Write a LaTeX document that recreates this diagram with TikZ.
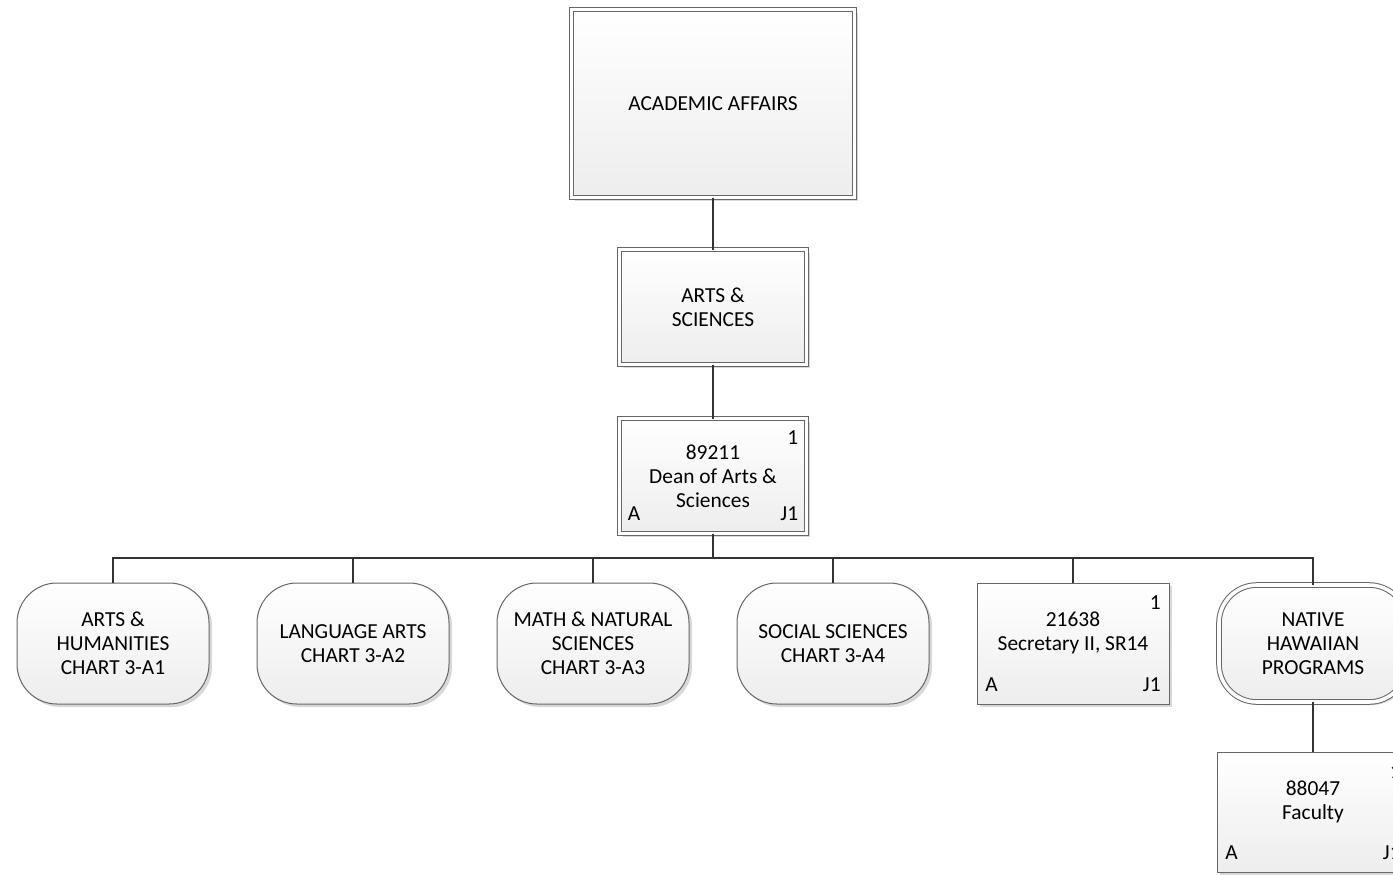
\documentclass[tikz,border=0pt]{standalone}
\usepackage{fontspec}
\setmainfont{Carlito}
\usetikzlibrary{shadows}
\tikzset{
	box/.style={rectangle,draw=black!60,line width=0.5pt,top color=white,bottom color=black!7,
		drop shadow={shadow xshift=1.5pt,shadow yshift=-1.5pt,fill=black!30,opacity=0.5},
		align=center,font=\fontsize{10.7}{12}\selectfont,inner sep=0pt,outer sep=0pt},
	dbox/.style={box,double=white,double distance=1.8pt},
	rbox/.style={box,rounded corners=20pt,minimum width=96pt,minimum height=60.5pt},
	drbox/.style={dbox,rounded corners=19pt,minimum width=94pt,minimum height=58.5pt},
	posbox/.style={box,minimum width=96pt,minimum height=60.5pt},
	corner/.style={inner sep=0pt,font=\fontsize{10.7}{12}\selectfont},
	conn/.style={draw=black!80,line width=1.1pt}}
\begin{document}
\begin{tikzpicture}[x=0.5pt,y=-0.5pt]
	\useasboundingbox (0,0) rectangle (1393,874);
	\node (acad) at (713,103.5) [dbox,minimum width=141.5pt,minimum height=94pt] {ACADEMIC AFFAIRS};
	\node (as) at (713,307) [dbox,minimum width=93.5pt,minimum height=57.5pt] {ARTS \&\\SCIENCES};
	\node (dean) at (713,476) [dbox,minimum width=93.5pt,minimum height=57.5pt] {89211\\Dean of Arts \&\\Sciences};
	\node (dean-n) at ([shift={(-8,26)}]dean.north east) [corner,anchor=base east] {1};
	\node (dean-a) at ([shift={(8,-13)}]dean.south west) [corner,anchor=base west] {A};
	\node (dean-j) at ([shift={(-8,-13)}]dean.south east) [corner,anchor=base east] {J1};
	\coordinate (bus) at (713,558);
	\node (ah) at (113,643.5) [rbox] {ARTS \&\\HUMANITIES\\CHART 3-A1};
	\node (la) at (353,643.5) [rbox] {LANGUAGE ARTS\\CHART 3-A2};
	\node (mns) at (593,643.5) [rbox] {MATH \& NATURAL\\SCIENCES\\CHART 3-A3};
	\node (ss) at (833,643.5) [rbox] {SOCIAL SCIENCES\\CHART 3-A4};
	\node (sec) at (1073,643.5) [posbox] {21638\\Secretary II, SR14\\\mbox{}};
	\node (sec-n) at ([shift={(-8,26)}]sec.north east) [corner,anchor=base east] {1};
	\node (sec-a) at ([shift={(8,-13)}]sec.south west) [corner,anchor=base west] {A};
	\node (sec-j) at ([shift={(-8,-13)}]sec.south east) [corner,anchor=base east] {J1};
	\node (nhp) at (1313,643.5) [drbox] {NATIVE\\HAWAIIAN\\PROGRAMS};
	\node (fac) at (1313,812) [posbox,minimum height=60pt] {88047\\Faculty\\\mbox{}};
	\node (fac-n) at ([shift={(-8,26)}]fac.north east) [corner,anchor=base east] {1};
	\node (fac-a) at ([shift={(8,-13)}]fac.south west) [corner,anchor=base west] {A};
	\node (fac-j) at ([shift={(-8,-13)}]fac.south east) [corner,anchor=base east] {J1};
	\draw [conn] (acad) -- (as);
	\draw [conn] (as) -- (dean);
	\draw [conn] (dean) -- (bus);
	\foreach \c in {ah,la,mns,ss,sec,nhp}
		\draw [conn] (bus) -| (\c);
	\draw [conn] (nhp) -- (fac);
\end{tikzpicture}
\end{document}
